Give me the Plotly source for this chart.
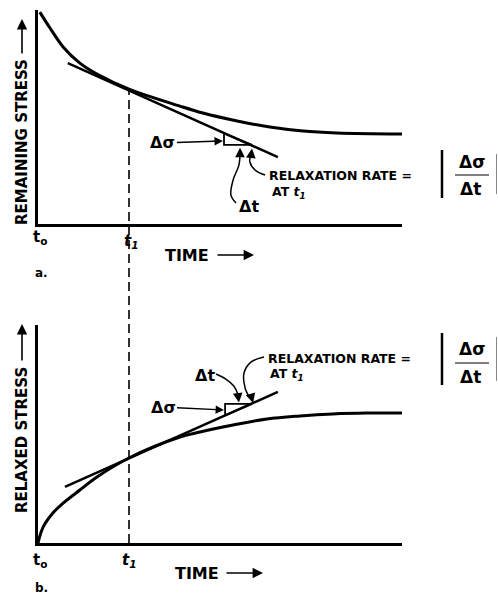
import plotly.graph_objects as go

# ---------------- data (time / stress in arbitrary units) ----------------
T1 = 2.5  # time t1

# (a) remaining stress curve
rem_t = [0.05, 0.33, 0.69, 1.15, 1.62, 2.5, 3.90, 4.53, 5.47, 6.37, 7.28, 8.21, 10.0]
rem_s = [10.10, 9.34, 8.44, 7.67, 7.15, 6.43, 5.62, 5.29, 4.91, 4.62, 4.43, 4.34, 4.29]
rem_tan_t = [0.82, 6.59]
rem_tan_s = [7.67, 3.19]
rem_tri_t = [5.11, 5.11, 5.88, 5.11]
rem_tri_s = [4.32, 3.77, 3.77, 4.32]
rem_at_t1 = 6.43
# curved arrows (a)
rem_dt_arrow_t = [5.44, 5.30, 5.36, 5.52, 5.55]
rem_dt_arrow_s = [1.00, 1.38, 2.10, 2.81, 3.38]
rem_dt_tip = (5.55, 3.64)
rem_rr_arrow_t = [6.24, 5.99, 5.82, 5.85]
rem_rr_arrow_s = [2.34, 2.53, 2.96, 3.34]
rem_rr_tip = (5.88, 3.60)
rem_ds_tip = (5.08, 3.96)

# (b) relaxed stress curve
rel_t = [0.0, 0.14, 0.41, 0.69, 1.15, 1.62, 2.5, 3.90, 4.45, 5.36, 6.29, 7.20, 8.10, 9.04, 10.0]
rel_s = [0.0, 0.73, 1.38, 1.83, 2.43, 3.03, 3.90, 4.86, 5.09, 5.41, 5.69, 5.83, 5.92, 5.96, 5.96]
rel_tan_t = [0.74, 6.59]
rel_tan_s = [2.57, 6.93]
rel_tri_t = [5.14, 5.14, 5.88, 5.14]
rel_tri_s = [5.85, 6.38, 6.38, 5.85]
# curved arrows (b)
rel_dt_arrow_t = [4.89, 5.16, 5.38, 5.49]
rel_dt_arrow_s = [7.75, 7.52, 7.20, 6.83]
rel_dt_tip = (5.52, 6.44)
rel_rr_arrow_t = [6.21, 5.85, 5.66, 5.69, 5.82]
rel_rr_arrow_s = [8.53, 8.30, 7.80, 7.11, 6.65]
rel_rr_tip = (5.91, 6.42)
rel_ds_tip = (5.11, 6.10)

TOP_RANGE = [0, 10.2]
BOT_RANGE = [0, 10]
X_RANGE = [0, 10]

# ---------------- layout helpers ----------------
W, H = 498, 596
def PX(x):
    return x / W
def PY(y):
    return 1 - y / H

XDOM = [PX(38), PX(402)]
TOPDOM = [PY(224), PY(10)]
BOTDOM = [PY(543), PY(325)]

FONT = "DejaVu Sans"
BLACK = "black"

fig = go.Figure()

def line(x, y, ax, width, shape="linear", dash=None):
    fig.add_trace(go.Scatter(
        x=x, y=y, mode="lines", xaxis=ax[0], yaxis=ax[1],
        line=dict(color=BLACK, width=width, shape=shape, dash=dash, smoothing=1.0),
        hoverinfo="skip", showlegend=False))

TOP = ("x", "y")
BOT = ("x2", "y2")

# panel a
line(rem_t, rem_s, TOP, 3, "spline")
line(rem_tan_t, rem_tan_s, TOP, 2.5)
line(rem_tri_t, rem_tri_s, TOP, 1.8)
line(rem_dt_arrow_t, rem_dt_arrow_s, TOP, 1.5, "spline")
line(rem_rr_arrow_t, rem_rr_arrow_s, TOP, 1.5, "spline")

# panel b
line(rel_t, rel_s, BOT, 3, "spline")
line(rel_tan_t, rel_tan_s, BOT, 2.5)
line(rel_tri_t, rel_tri_s, BOT, 1.8)
line(rel_dt_arrow_t, rel_dt_arrow_s, BOT, 1.5, "spline")
line(rel_rr_arrow_t, rel_rr_arrow_s, BOT, 1.5, "spline")

axis_common = dict(showline=True, linewidth=2.5, linecolor=BLACK, showgrid=False,
                   zeroline=False, showticklabels=False, ticks="", fixedrange=True)

# dashed t1 line from top curve down to bottom time axis
y_top_paper = TOPDOM[0] + (rem_at_t1 - TOP_RANGE[0]) / (TOP_RANGE[1] - TOP_RANGE[0]) * (TOPDOM[1] - TOPDOM[0])
shapes = [
    dict(type="line", xref="x", yref="paper", x0=T1, x1=T1, y0=BOTDOM[0], y1=y_top_paper,
         line=dict(color=BLACK, width=1.6, dash="9px,5px")),
]

# fraction bars
for (ytop, ybot, yline) in [(150, 198, 175), (333, 385, 363)]:
    shapes.append(dict(type="line", xref="paper", yref="paper", x0=PX(442), x1=PX(442),
                       y0=PY(ybot), y1=PY(ytop), line=dict(color=BLACK, width=2.5)))
    shapes.append(dict(type="line", xref="paper", yref="paper", x0=PX(496.5), x1=PX(496.5),
                       y0=PY(ybot - 4), y1=PY(ytop + 4), line=dict(color="#888", width=1)))
    shapes.append(dict(type="line", xref="paper", yref="paper", x0=PX(455), x1=PX(489),
                       y0=PY(yline), y1=PY(yline), line=dict(color=BLACK, width=1.2)))

ann = []

def text(x, y, s, size, xanchor="center", angle=0, italic=False):
    ann.append(dict(xref="paper", yref="paper", x=PX(x), y=PY(y), text=s, showarrow=False,
                    xanchor=xanchor, yanchor="middle", textangle=angle,
                    font=dict(family=FONT, size=size, color=BLACK, weight="bold",
                              style="italic" if italic else "normal")))

def paper_arrow(x, y, dx, dy):
    ann.append(dict(xref="paper", yref="paper", x=PX(x), y=PY(y), text="", showarrow=True,
                    ax=dx, ay=dy, axref="pixel", ayref="pixel", arrowhead=2, arrowsize=1.3,
                    arrowwidth=1.6, arrowcolor=BLACK))

def head(ax, tip, dx, dy):
    ann.append(dict(xref=ax[0], yref=ax[1], x=tip[0], y=tip[1], text="", showarrow=True,
                    ax=dx, ay=dy, arrowhead=2, arrowsize=1.2, arrowwidth=1.6, arrowcolor=BLACK))

# axis titles
text(22, 142, "REMAINING STRESS", 15, angle=-90)
paper_arrow(22, 19, 0, 36)
text(22, 440, "RELAXED STRESS", 15, angle=-90)
paper_arrow(22, 324, 0, 38)
text(163, 255, "TIME", 16, xanchor="left")
paper_arrow(254, 255, -38, 0)
text(173, 573, "TIME", 16, xanchor="left")
paper_arrow(263, 573, -38, 0)

# time marks
text(40, 237, "t<sub>o</sub>", 15)
text(131, 241, "t<sub>1</sub>", 15, italic=True)
text(40, 560, "t<sub>o</sub>", 15)
text(129, 560, "t<sub>1</sub>", 15, italic=True)
text(41, 273, "a.", 12)
text(41, 588, "b.", 12)

# relaxation rate formula
text(267, 175, "RELAXATION RATE =", 12.5, xanchor="left")
text(270, 192, "AT <i>t<sub>1</sub></i>", 12.5, xanchor="left")
text(472, 162, "Δσ", 17)
text(470, 189, "Δt", 17)
text(266, 358, "RELAXATION RATE =", 12.5, xanchor="left")
text(268, 374, "AT <i>t<sub>1</sub></i>", 12.5, xanchor="left")
text(472, 349, "Δσ", 17)
text(470, 377, "Δt", 17)

# delta labels
ann.append(dict(xref="x", yref="y", x=rem_ds_tip[0], y=rem_ds_tip[1], text="Δσ", showarrow=True,
                ax=-60, ay=2, arrowhead=2, arrowsize=1.2, arrowwidth=1.4, arrowcolor=BLACK,
                font=dict(family=FONT, size=16, color=BLACK, weight="bold")))
ann.append(dict(xref="x2", yref="y2", x=rel_ds_tip[0], y=rel_ds_tip[1], text="Δσ", showarrow=True,
                ax=-61, ay=-3, arrowhead=2, arrowsize=1.2, arrowwidth=1.4, arrowcolor=BLACK,
                font=dict(family=FONT, size=16, color=BLACK, weight="bold")))
text(249, 206, "Δt", 16)
text(205, 375, "Δt", 16)

# curved arrow heads
head(TOP, rem_dt_tip, 0, 8)
head(TOP, rem_rr_tip, -1, 8)
head(BOT, rel_dt_tip, -1, -8)
head(BOT, rel_rr_tip, -2, -7)

fig.update_layout(
    width=W, height=H, margin=dict(l=0, r=0, t=0, b=0),
    paper_bgcolor="white", plot_bgcolor="white", showlegend=False,
    xaxis=dict(domain=XDOM, range=X_RANGE, anchor="y", **axis_common),
    yaxis=dict(domain=TOPDOM, range=TOP_RANGE, anchor="x", **axis_common),
    xaxis2=dict(domain=XDOM, range=X_RANGE, anchor="y2", **axis_common),
    yaxis2=dict(domain=BOTDOM, range=BOT_RANGE, anchor="x2", **axis_common),
    shapes=shapes, annotations=ann,
)

fig.write_html("out.html", config={"displayModeBar": False},
               post_script="document.body.style.margin='0';document.body.style.overflow='hidden';")
